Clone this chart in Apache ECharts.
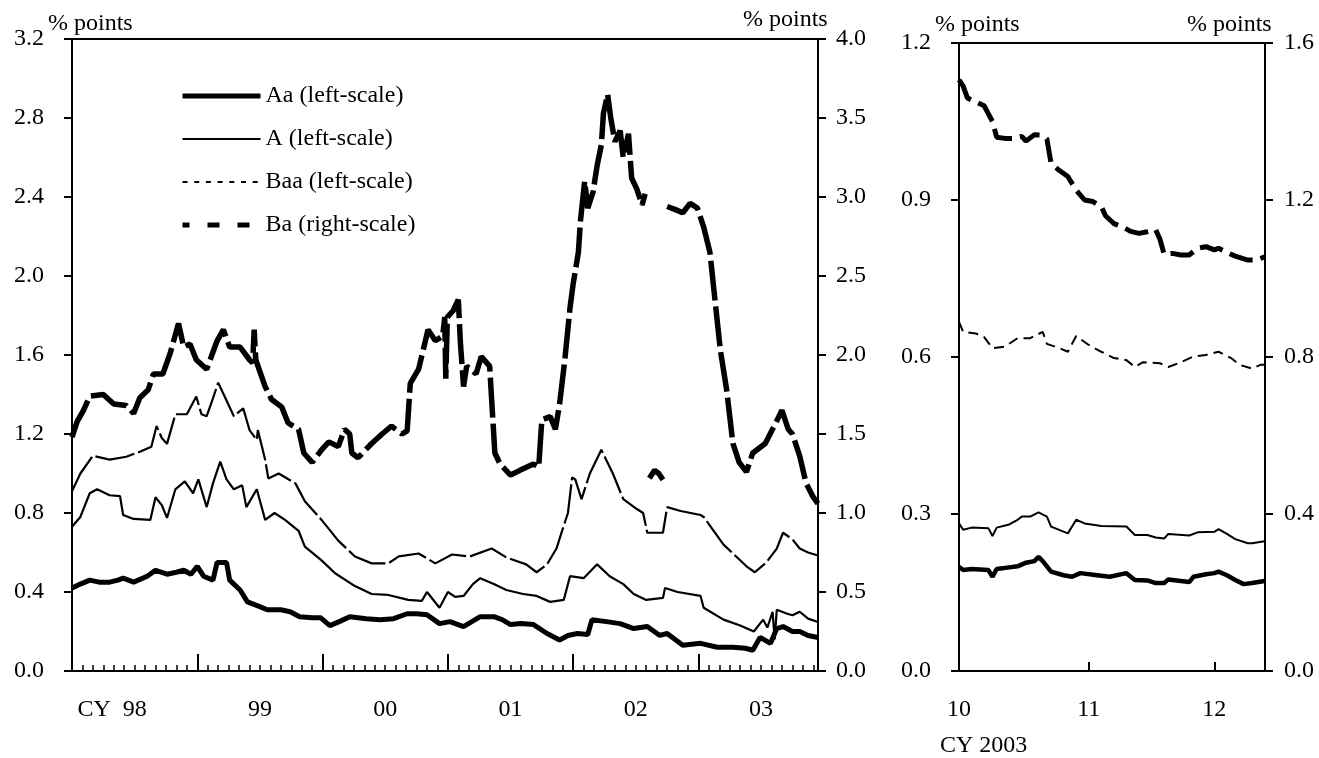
<!DOCTYPE html>
<html><head><meta charset="utf-8">
<script src="https://cdn.jsdelivr.net/npm/echarts@6/dist/echarts.min.js"></script>
<style>html,body{margin:0;padding:0;background:#fff}#c{width:1319px;height:758px}</style>
</head><body><div id="c"></div><script>
const FONT = 'Liberation Serif';
const FS = 24;

// ---- Left panel: x = months since Jan 1998 ----
const yearLabelPos = [6, 18, 30, 42, 54, 66];
const yearLabels = ['98', '99', '00', '01', '02', '03'];

const aaLeft = [[0,0.42],[0.8,0.44],[1.7,0.46],[2.6,0.45],[3.6,0.45],[4.4,0.46],[4.9,0.47],[5.9,0.45],[7.2,0.48],[8.0,0.51],
 [9.1,0.49],[10.0,0.50],[10.7,0.51],[11.4,0.49],[12.0,0.53],[12.6,0.48],[13.5,0.46],[13.9,0.55],[14.8,0.55],[15.1,0.46],
 [16.1,0.41],[16.8,0.35],[17.8,0.33],[18.7,0.31],[20.0,0.31],[20.9,0.30],[21.8,0.275],[23.0,0.27],[23.8,0.27],[24.7,0.23],
 [25.6,0.25],[26.6,0.275],[28.2,0.265],[29.5,0.26],[30.8,0.265],[32.1,0.29],[33.0,0.29],[34.0,0.285],[35.2,0.24],[36.2,0.25],
 [37.5,0.225],[38.3,0.25],[39.1,0.275],[40.4,0.275],[41.2,0.26],[42.0,0.235],[43.0,0.24],[44.2,0.235],[45.5,0.19],[46.7,0.157],
 [47.5,0.18],[48.4,0.19],[49.4,0.185],[49.8,0.26],[51.2,0.25],[52.5,0.24],[53.8,0.215],[55.1,0.225],[56.3,0.18],[57.0,0.19],
 [58.5,0.13],[60.2,0.14],[61.8,0.12],[63.3,0.12],[64.5,0.115],[65.2,0.105],[65.9,0.17],[66.9,0.14],[67.5,0.215],[68.1,0.225],
 [69.0,0.20],[69.7,0.20],[70.5,0.18],[71.45,0.17]];

const aLeft = [[0,0.73],[0.8,0.78],[1.7,0.90],[2.4,0.92],[3.6,0.89],[4.6,0.885],[4.9,0.79],[5.9,0.77],[7.5,0.765],[8.0,0.88],
 [8.6,0.84],[9.1,0.775],[9.9,0.92],[10.8,0.96],[11.6,0.90],[12.1,0.97],[12.9,0.83],[13.5,0.95],[14.2,1.06],[14.8,0.97],
 [15.5,0.92],[16.3,0.94],[16.7,0.83],[17.7,0.92],[18.5,0.765],[19.4,0.80],[20.4,0.765],[21.7,0.71],[22.3,0.63],[23.9,0.56],
 [25.2,0.495],[27.1,0.43],[28.7,0.39],[30.3,0.385],[32.2,0.36],[33.5,0.355],[34.0,0.40],[35.2,0.32],[36.0,0.40],[36.7,0.375],
 [37.5,0.38],[38.4,0.44],[39.1,0.47],[40.4,0.44],[41.6,0.41],[43.2,0.39],[44.5,0.38],[45.8,0.35],[47.1,0.36],[47.7,0.48],
 [49.0,0.47],[50.3,0.54],[51.5,0.48],[52.8,0.44],[53.8,0.39],[55.0,0.36],[56.6,0.37],[56.8,0.42],[58.0,0.40],[60.2,0.38],
 [60.5,0.32],[62.4,0.26],[64.0,0.23],[65.3,0.20],[66.2,0.26],[66.6,0.22],[67.1,0.30],[67.3,0.16],[67.5,0.31],[68.5,0.29],
 [69.0,0.282],[69.7,0.30],[70.5,0.265],[71.45,0.248]];

const baaLeft = [[0,0.91],[0.8,1.00],[2.0,1.09],[3.6,1.07],[5.2,1.085],[6.5,1.11],[7.6,1.135],[8.1,1.24],[8.6,1.18],[9.1,1.15],
 [9.9,1.30],[11.0,1.30],[11.9,1.39],[12.4,1.30],[12.9,1.29],[13.5,1.38],[14.0,1.46],[14.8,1.37],[15.5,1.29],[16.4,1.33],
 [17.0,1.22],[17.7,1.17],[17.8,1.22],[18.5,1.07],[18.8,0.975],[19.8,1.00],[21.4,0.95],[22.3,0.86],[23.9,0.765],[25.5,0.66],
 [27.1,0.58],[28.7,0.545],[30.3,0.545],[31.3,0.58],[33.2,0.595],[34.8,0.545],[36.4,0.59],[38.1,0.58],[40.2,0.62],[41.6,0.575],
 [43.5,0.54],[44.5,0.50],[45.5,0.54],[46.4,0.62],[47.0,0.72],[47.5,0.80],[47.9,0.98],[48.2,0.97],[48.8,0.87],[49.6,1.00],
 [50.7,1.12],[51.8,1.00],[52.8,0.87],[54.1,0.82],[54.7,0.80],[55.1,0.70],[56.6,0.70],[57.0,0.83],[58.3,0.81],[60.2,0.79],
 [60.5,0.78],[62.4,0.64],[64.6,0.53],[65.4,0.50],[66.5,0.55],[67.5,0.62],[68.1,0.70],[69.0,0.667],[69.7,0.62],[70.5,0.60],
 [71.45,0.585]];

const baLeft = [[0,1.48],[0.5,1.58],[1.1,1.65],[1.7,1.74],[3.0,1.75],[4.0,1.69],[5.2,1.68],[5.9,1.63],[6.5,1.73],[7.3,1.78],
 [7.8,1.88],[8.7,1.88],[9.4,2.01],[10.2,2.20],[10.7,2.05],[11.3,2.07],[11.9,1.97],[12.9,1.91],[13.9,2.09],[14.5,2.16],
 [15.1,2.05],[16.1,2.05],[17.0,1.97],[17.3,1.95],[17.45,2.16],[17.6,1.97],[18.5,1.80],[19.1,1.72],[20.1,1.67],[20.7,1.57],
 [21.7,1.53],[22.2,1.38],[23.0,1.32],[23.9,1.40],[24.6,1.45],[25.5,1.42],[26.1,1.53],[26.6,1.50],[26.8,1.38],[27.4,1.35],
 [28.7,1.44],[29.7,1.50],[30.6,1.55],[31.6,1.50],[32.1,1.52],[32.4,1.82],[33.2,1.91],[34.1,2.16],[34.8,2.09],[35.5,2.12],
 [35.7,2.24],[35.8,1.85],[35.95,2.24],[36.5,2.28],[37.0,2.35],[37.2,2.08],[37.5,1.80],[37.8,1.93],[38.7,1.88],[39.2,1.99],
 [40.0,1.93],[40.3,1.60],[40.5,1.38],[41.0,1.31],[42.0,1.24],[42.9,1.27],[44.2,1.31],[44.7,1.29],[45.0,1.59],[45.8,1.61],
 [46.3,1.53],[46.7,1.69],[47.2,1.97],[47.7,2.30],[48.0,2.45],[48.5,2.65],[48.7,2.85],[49.1,3.10],[49.4,2.93],[49.9,3.03],
 [50.3,3.20],[50.7,3.33],[50.9,3.53],[51.3,3.65],[51.6,3.50],[52.0,3.35],[52.5,3.42],[52.8,3.25],[53.3,3.40],[53.6,3.12],
 [54.1,3.05],[54.6,2.95],[54.9,3.02],[55.1,null],[55.3,1.22],[55.8,1.27],[56.2,1.25],[56.6,1.21],[56.8,null],[57.0,2.94],
 [57.8,2.92],[58.5,2.90],[59.2,2.96],[59.9,2.93],[60.5,2.81],[61.1,2.65],[61.5,2.40],[62.1,2.03],[62.7,1.78],[63.3,1.44],
 [63.9,1.32],[64.6,1.26],[65.2,1.38],[66.4,1.44],[67.4,1.57],[68.0,1.65],[68.6,1.53],[69.0,1.50],[69.7,1.36],[70.3,1.19],
 [71.0,1.10],[71.45,1.06]];

// ---- Right panel: x = days since 1 Oct 2003 ----
const monthTickPos = [0, 31, 61];
const monthLabels = ['10', '11', '12'];

const aaRight = [[0,0.199],[1,0.193],[3,0.195],[7,0.193],[8,0.18],[9,0.195],[12,0.198],[14,0.20],[16,0.207],[18,0.21],
 [19,0.218],[20,0.21],[22,0.19],[25,0.183],[27,0.18],[29,0.187],[33,0.183],[36,0.18],[40,0.187],[42,0.174],
 [45,0.173],[47,0.168],[49,0.168],[50,0.175],[55,0.17],[56,0.18],[59,0.185],[61,0.187],[62,0.19],[64,0.183],
 [66,0.174],[68,0.166],[70,0.168],[73,0.172]];

const aRight = [[0,0.282],[1,0.27],[3,0.274],[7,0.273],[8,0.258],[9,0.274],[12,0.28],[14,0.289],[15,0.295],[17,0.295],
 [19,0.303],[21,0.295],[22,0.276],[26,0.263],[28,0.289],[30,0.282],[34,0.277],[40,0.276],[42,0.26],[45,0.26],
 [47,0.255],[49,0.253],[50,0.262],[55,0.259],[57,0.265],[61,0.266],[62,0.271],[64,0.262],[66,0.252],[69,0.244],
 [70,0.244],[73,0.248]];

const baaRight = [[0,0.667],[1,0.648],[4,0.645],[6,0.638],[8,0.617],[11,0.62],[14,0.636],[17,0.636],[18,0.64],[20,0.648],
 [21,0.625],[24,0.617],[26,0.61],[28,0.64],[31,0.623],[34,0.61],[37,0.598],[40,0.594],[42,0.581],[44,0.59],
 [48,0.588],[50,0.581],[53,0.59],[56,0.601],[59,0.604],[62,0.61],[65,0.598],[67,0.585],[70,0.578],[72,0.585],[73,0.585]];

const baRight = [[0,1.506],[1,1.49],[2,1.46],[4,1.45],[6,1.44],[7,1.42],[8,1.40],[9,1.36],[11,1.357],[13,1.357],
 [15,1.362],[16,1.35],[18,1.366],[20,1.365],[21,1.355],[22,1.293],[24,1.275],[26,1.26],[28,1.225],[30,1.20],
 [32,1.196],[34,1.183],[35,1.16],[37,1.14],[39,1.132],[41,1.12],[43,1.115],[45,1.119],[47,1.124],[48,1.10],
 [49,1.062],[51,1.064],[53,1.06],[55,1.06],[57,1.077],[59,1.081],[61,1.073],[62,1.077],[64,1.066],[66,1.057],
 [69,1.047],[71,1.047],[73,1.055]];

const names = ['Aa (left-scale)', 'A (left-scale)', 'Baa (left-scale)', 'Ba (right-scale)'];

const txt = { color: '#000', fontFamily: FONT, fontSize: FS };
const axLine = { show: true, lineStyle: { color: '#000', width: 2 } };
const fmt1 = v => v.toFixed(1);
const hideSym = { color: 'transparent', opacity: 0, borderWidth: 0 };

function yAx(grid, max, interval, position, margin) {
  return {
    gridIndex: grid, type: 'value', min: 0, max: max, interval: interval, position: position,
    axisLine: axLine,
    axisTick: { show: true, length: 8, lineStyle: { color: '#000', width: 2 } },
    axisLabel: Object.assign({}, txt, { margin: margin, formatter: fmt1 }),
    splitLine: { show: false }
  };
}

function line(name, data, xi, yi, width, dash) {
  return {
    name: name, type: 'line', xAxisIndex: xi, yAxisIndex: yi, data: data,
    symbol: 'none', showSymbol: false, connectNulls: false, silent: true,
    itemStyle: { color: '#000' },
    lineStyle: { color: '#000', width: width, type: dash || 'solid' },
    emphasis: { disabled: true }
  };
}

const pFont = FS + 'px "Liberation Serif"';
const chart = echarts.init(document.getElementById('c'), null, { renderer: 'canvas' });
chart.setOption({
  animation: false,
  backgroundColor: '#fff',
  grid: [
    { left: 72, top: 39, width: 746, height: 632, show: true, borderColor: '#000', borderWidth: 2 },
    { left: 959, top: 43, width: 306, height: 628, show: true, borderColor: '#000', borderWidth: 2 }
  ],
  xAxis: [
    {
      gridIndex: 0, type: 'value', min: 0, max: 71.45, interval: 12,
      axisLine: axLine,
      axisTick: { show: true, inside: true, length: 17, lineStyle: { color: '#000', width: 2 } },
      minorTick: { show: true, splitNumber: 12, length: 6, lineStyle: { color: '#000', width: 1.5 } },
      splitLine: { show: false }, minorSplitLine: { show: false },
      axisLabel: Object.assign({}, txt, {
        margin: 27, customValues: yearLabelPos, showMinLabel: true, showMaxLabel: true,
        formatter: function (v) {
          const i = yearLabelPos.indexOf(v);
          if (i < 0) return '';
          return i === 0 ? '{n|CY  ' + yearLabels[i] + '}{p|}' : '{n|' + yearLabels[i] + '}';
        },
        rich: { n: Object.assign({}, txt), p: { width: 45 } }
      })
    },
    {
      gridIndex: 1, type: 'value', min: 0, max: 73.1,
      axisLine: axLine,
      axisTick: { show: true, inside: true, length: 9, customValues: [31, 61], lineStyle: { color: '#000', width: 2 } },
      splitLine: { show: false },
      axisLabel: Object.assign({}, txt, {
        margin: 27, customValues: monthTickPos, showMinLabel: true,
        formatter: function (v) { const i = monthTickPos.indexOf(v); return i < 0 ? '' : monthLabels[i]; }
      })
    }
  ],
  yAxis: [
    yAx(0, 3.2, 0.4, 'left', 28),
    yAx(0, 4.0, 0.5, 'right', 18),
    yAx(1, 1.2, 0.3, 'left', 28),
    yAx(1, 1.6, 0.4, 'right', 19)
  ],
  legend: {
    left: 180, top: 84, padding: 0, orient: 'vertical', itemWidth: 78, itemHeight: 14, itemGap: 19,
    selectedMode: false, textStyle: Object.assign({}, txt),
    data: [
      { name: names[0], itemStyle: hideSym, lineStyle: { width: 5, type: 'solid', color: '#000' } },
      { name: names[1], itemStyle: hideSym, lineStyle: { width: 2, type: 'solid', color: '#000' } },
      { name: names[2], itemStyle: hideSym, lineStyle: { width: 2, type: [5, 6.7], color: '#000' } },
      { name: names[3], itemStyle: hideSym, lineStyle: { width: 5, type: [12, 18], dashOffset: 5, color: '#000' } }
    ]
  },
  graphic: [
    { type: 'text', left: 48, top: 12, style: { text: '% points', font: pFont, fill: '#000' } },
    { type: 'text', left: 743, top: 8, style: { text: '% points', font: pFont, fill: '#000' } },
    { type: 'text', left: 935, top: 13, style: { text: '% points', font: pFont, fill: '#000' } },
    { type: 'text', left: 1187, top: 13, style: { text: '% points', font: pFont, fill: '#000' } },
    { type: 'text', left: 940, top: 734, style: { text: 'CY 2003', font: pFont, fill: '#000' } }
  ],
  series: [
    line(names[0], aaLeft, 0, 0, 5),
    line(names[1], aLeft, 0, 0, 2.2),
    line(names[2], baaLeft, 0, 0, 2.2, [40, 4]),
    line(names[3], baLeft, 0, 1, 5.5, [40, 6]),
    line(names[0], aaRight, 1, 2, 4.5),
    line(names[1], aRight, 1, 2, 2),
    line(names[2], baaRight, 1, 2, 2, [10, 6]),
    line(names[3], baRight, 1, 3, 5, [24, 8])
  ]
});
</script></body></html>
